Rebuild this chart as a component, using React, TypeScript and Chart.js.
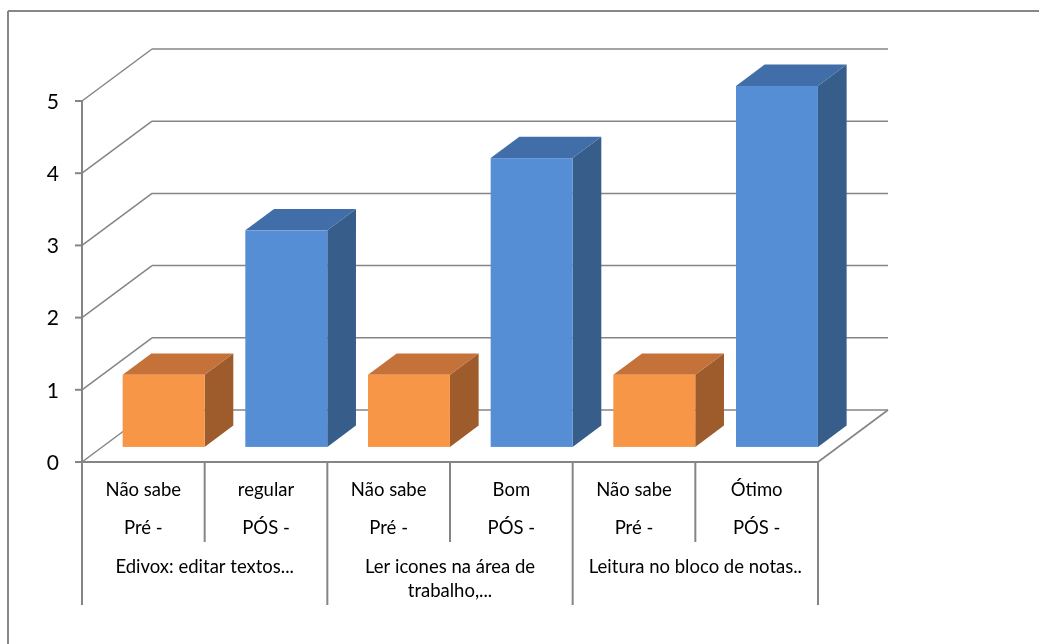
import React, { useEffect, useRef } from "react";
import { Chart, registerables } from "chart.js";

Chart.register(...registerables);

// ---- data ----
const categories = ["Não sabe", "regular", "Não sabe", "Bom", "Não sabe", "Ótimo"];
const phases = ["Pré -", "PÓS -", "Pré -", "PÓS -", "Pré -", "PÓS -"];
const groups = [
  ["Edivox: editar textos..."],
  ["Ler icones na área de", "trabalho,..."],
  ["Leitura no bloco de notas.."],
];
const values = [1, 3, 1, 4, 1, 5];
const yMin = 0;
const yMax = 5;
const yStep = 1;

// ---- styles ----
const PALETTE: Record<string, { front: string; top: string; side: string }> = {
  "Pré -": { front: "#F79646", top: "#C4723A", side: "#9E5B2B" },
  "PÓS -": { front: "#558ED5", top: "#416EA8", side: "#375D8B" },
};
const GRID = "#858585";
const FONT = "Lato, 'Liberation Sans', sans-serif";
const DX = 70; // depth of the floor (x)
const DY = -52; // depth of the floor (y)
const BAR_FRONT = 0.29;
const BAR_DEPTH = 0.41;

function line(ctx: CanvasRenderingContext2D, x1: number, y1: number, x2: number, y2: number) {
  ctx.beginPath();
  ctx.moveTo(x1, y1);
  ctx.lineTo(x2, y2);
  ctx.stroke();
}

const threeD = {
  id: "threeD",
  beforeDraw(chart: any) {
    const ctx = chart.ctx as CanvasRenderingContext2D;
    ctx.save();
    ctx.fillStyle = "#ffffff";
    ctx.fillRect(0, 0, chart.width, chart.height);
    ctx.strokeStyle = "#878787";
    ctx.lineWidth = 2;
    line(ctx, 8, 11, chart.width, 11);
    line(ctx, 8, 11, 8, chart.height);
    ctx.restore();
  },
  beforeDatasetsDraw(chart: any) {
    const ctx = chart.ctx as CanvasRenderingContext2D;
    const { left, right, bottom } = chart.chartArea;
    const ys = chart.scales.y;
    const xs = chart.scales.x;
    ctx.save();
    // walls
    ctx.strokeStyle = GRID;
    ctx.lineWidth = 1.5;
    ys.ticks.forEach((t: any) => {
      const py = ys.getPixelForValue(t.value);
      line(ctx, left, py, left + DX, py + DY);
      line(ctx, left + DX, py + DY, right + DX, py + DY);
    });
    ctx.lineWidth = 2;
    const yTop = ys.getPixelForValue(yMax);
    line(ctx, left, yTop, left, bottom);
    ys.ticks.forEach((t: any) => {
      const py = ys.getPixelForValue(t.value);
      line(ctx, left - 7, py, left, py);
    });
    line(ctx, left, bottom, right, bottom);
    ctx.lineWidth = 1.6;
    line(ctx, right, bottom, right + DX, bottom + DY);

    // y labels
    ctx.fillStyle = "#000";
    ctx.font = `21px ${FONT}`;
    ctx.textAlign = "right";
    ctx.textBaseline = "middle";
    ys.ticks.forEach((t: any) => {
      const py = ys.getPixelForValue(t.value);
      ctx.fillText(String(t.value), left - 23, py + 1);
    });

    // category table
    const n = categories.length;
    const cw = (right - left) / n;
    ctx.strokeStyle = GRID;
    ctx.lineWidth = 2;
    for (let i = 0; i <= n; i++) {
      const bx = left + i * cw;
      line(ctx, bx, bottom, bx, bottom + (i % 2 === 0 ? 143 : 80));
    }
    ctx.font = `18.5px ${FONT}`;
    ctx.textAlign = "center";
    ctx.fillStyle = "#000";
    categories.forEach((c, i) => {
      const cx = xs.getPixelForValue(i);
      ctx.fillText(c, cx, bottom + 28);
      ctx.fillText(phases[i], cx, bottom + 66);
    });
    groups.forEach((g, gi) => {
      const cx = (xs.getPixelForValue(gi * 2) + xs.getPixelForValue(gi * 2 + 1)) / 2;
      g.forEach((txt, li) => ctx.fillText(txt, cx, bottom + 105 + li * 24));
    });
    ctx.restore();
  },
  afterDatasetsDraw(chart: any) {
    const ctx = chart.ctx as CanvasRenderingContext2D;
    const meta = chart.getDatasetMeta(0);
    const fx = BAR_FRONT * DX;
    const fy = BAR_FRONT * DY;
    const dx = BAR_DEPTH * DX;
    const dy = BAR_DEPTH * DY;
    ctx.save();
    meta.data.forEach((el: any, i: number) => {
      const p = el.getProps(["x", "y", "base", "width"], true);
      const pal = PALETTE[phases[i]];
      const l = p.x - p.width / 2 + fx;
      const r = l + p.width;
      const t = p.y + fy;
      const b = p.base + fy;
      // side
      ctx.fillStyle = pal.side;
      ctx.beginPath();
      ctx.moveTo(r, t);
      ctx.lineTo(r + dx, t + dy);
      ctx.lineTo(r + dx, b + dy);
      ctx.lineTo(r, b);
      ctx.closePath();
      ctx.fill();
      // top
      ctx.fillStyle = pal.top;
      ctx.beginPath();
      ctx.moveTo(l, t);
      ctx.lineTo(r, t);
      ctx.lineTo(r + dx, t + dy);
      ctx.lineTo(l + dx, t + dy);
      ctx.closePath();
      ctx.fill();
      // front
      ctx.fillStyle = pal.front;
      ctx.fillRect(l, t, r - l, b - t);
    });
    ctx.restore();
  },
};

export default function App() {
  const ref = useRef<HTMLCanvasElement | null>(null);
  useEffect(() => {
    if (!ref.current) return;
    const chart = new Chart(ref.current, {
      type: "bar",
      data: {
        labels: categories,
        datasets: [
          {
            data: values,
            backgroundColor: "rgba(0,0,0,0)",
            borderWidth: 0,
            categoryPercentage: 1,
            barPercentage: 0.668,
          },
        ],
      },
      options: {
        animation: false,
        responsive: false,
        devicePixelRatio: 1,
        layout: { padding: { left: 82, top: 101, right: 1039 - 818, bottom: 644 - 462 } },
        plugins: { legend: { display: false }, tooltip: { enabled: false } },
        scales: {
          x: { display: false, offset: true },
          y: { display: false, min: yMin, max: yMax, ticks: { stepSize: yStep } },
        },
      },
      plugins: [threeD],
    });
    return () => chart.destroy();
  }, []);
  return (
    <div style={{ position: "fixed", left: 0, top: 0, width: 1039, height: 644, background: "#fff" }}>
      <canvas ref={ref} width={1039} height={644} style={{ display: "block" }} />
    </div>
  );
}
